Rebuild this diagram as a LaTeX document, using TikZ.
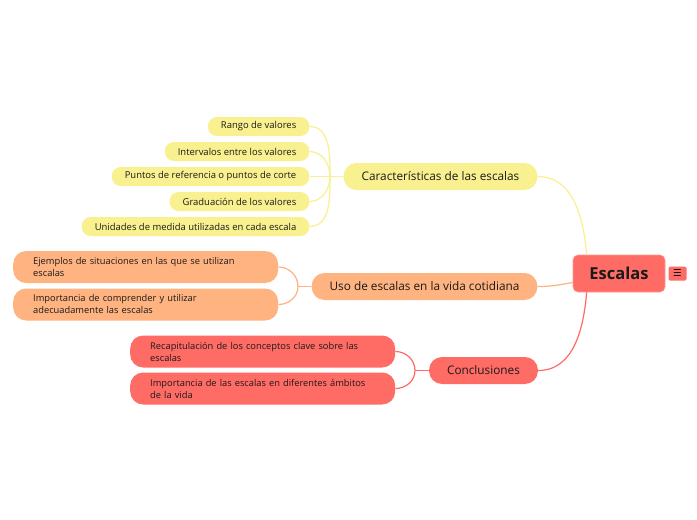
\documentclass[tikz,border=0pt]{standalone}
\usepackage{fontspec}
\setmainfont{Open Sans}
\newfontfamily\symfont{DejaVu Sans}
\usetikzlibrary{positioning}
\definecolor{ylwFill}{HTML}{F9F08F}
\definecolor{orgFill}{HTML}{FFB380}
\definecolor{redFill}{HTML}{FF6B65}
\definecolor{redDraw}{HTML}{FF9C95}
\definecolor{txt}{HTML}{1A1A1A}
\tikzset{
  box/.style   ={text=txt, inner ysep=0pt, align=center},
  root/.style  ={box, fill=redFill, draw=redDraw, line width=0.6pt, rounded corners=5pt,
                 minimum width=92pt, minimum height=37pt, font=\fontsize{16.5}{18}\selectfont\bfseries},
  branch/.style={box, rounded corners=13pt, minimum height=27pt, inner xsep=18pt,
                 font=\fontsize{11.8}{13}\selectfont},
  leaf/.style  ={box, rounded corners=9pt, minimum height=19pt, inner xsep=13pt,
                 font=\fontsize{9.45}{11}\selectfont},
  wide/.style  ={box, rounded corners=13pt, minimum height=32pt, inner xsep=20pt,
                 text width=225pt, align=left, font=\fontsize{9.3}{12}\selectfont},
  link/.style  ={line width=1.2pt},
}
\begin{document}
\begin{tikzpicture}[x=1pt,y=-1pt]
  \useasboundingbox[fill=white] (0,0) rectangle (697,520);

  % centre and menu icon
  \node[root] (root) at (619,273.5) {Escalas};
  \node[fill=redFill, rounded corners=1.5pt, inner sep=1pt, minimum width=18pt, minimum height=14pt,
        font=\symfont\fontsize{9.5}{9.5}\selectfont, right=3pt of root] (menu) {☰};

  % main branches
  \node[branch, fill=ylwFill] (car) at (440.5,176.5) {Características de las escalas};
  \node[branch, fill=orgFill] (uso) at (424.5,286.5) {Uso de escalas en la vida cotidiana};
  \node[branch, fill=redFill] (con) at (483.5,370.5) {Conclusiones};
  \draw[link, ylwFill] (car.east) to[out=0,in=95] ([xshift=14pt]root.north west);
  \draw[link, orgFill] (uso.east) to[out=0,in=190] ([yshift=-9pt]root.west);
  \draw[link, redFill] (con.east) to[out=0,in=-95] ([xshift=14pt]root.south west);

  % characteristics
  \coordinate (cj) at (330,176.5);
  \draw[link, ylwFill] (car.west) -- (cj);
  \foreach \n/\y/\a/\t in {1/126.5/90/Rango de valores,
                           2/151.5/90/Intervalos entre los valores,
                           3/176.5/180/Puntos de referencia o puntos de corte,
                           4/201.5/-90/Graduación de los valores,
                           5/226.5/-90/Unidades de medida utilizadas en cada escala} {
    \node[leaf, fill=ylwFill, anchor=east] (c\n) at (309.5,\y) {\t};
    \draw[link, ylwFill] (c\n.east) to[out=0,in=\a] (cj);
  }

  % everyday use
  \coordinate (uj) at (298,286.5);
  \draw[link, orgFill] (uso.west) -- (uj);
  \node[wide, fill=orgFill, anchor=west] (u1) at (13,267) {Ejemplos de situaciones en las que se utilizan\\escalas};
  \node[wide, fill=orgFill, anchor=west] (u2) at (13,304.5) {Importancia de comprender y utilizar\\adecuadamente las escalas};
  \draw[link, orgFill] (u1.east) to[out=0,in=90] (uj);
  \draw[link, orgFill] (u2.east) to[out=0,in=-90] (uj);

  % conclusions
  \coordinate (kj) at (415,370.5);
  \draw[link, redFill] (con.west) -- (kj);
  \node[wide, fill=redFill, anchor=west] (k1) at (130,351.5) {Recapitulación de los conceptos clave sobre las\\escalas};
  \node[wide, fill=redFill, anchor=west] (k2) at (130,388.5) {Importancia de las escalas en diferentes ámbitos\\de la vida};
  \draw[link, redFill] (k1.east) to[out=0,in=90] (kj);
  \draw[link, redFill] (k2.east) to[out=0,in=-90] (kj);
\end{tikzpicture}
\end{document}
